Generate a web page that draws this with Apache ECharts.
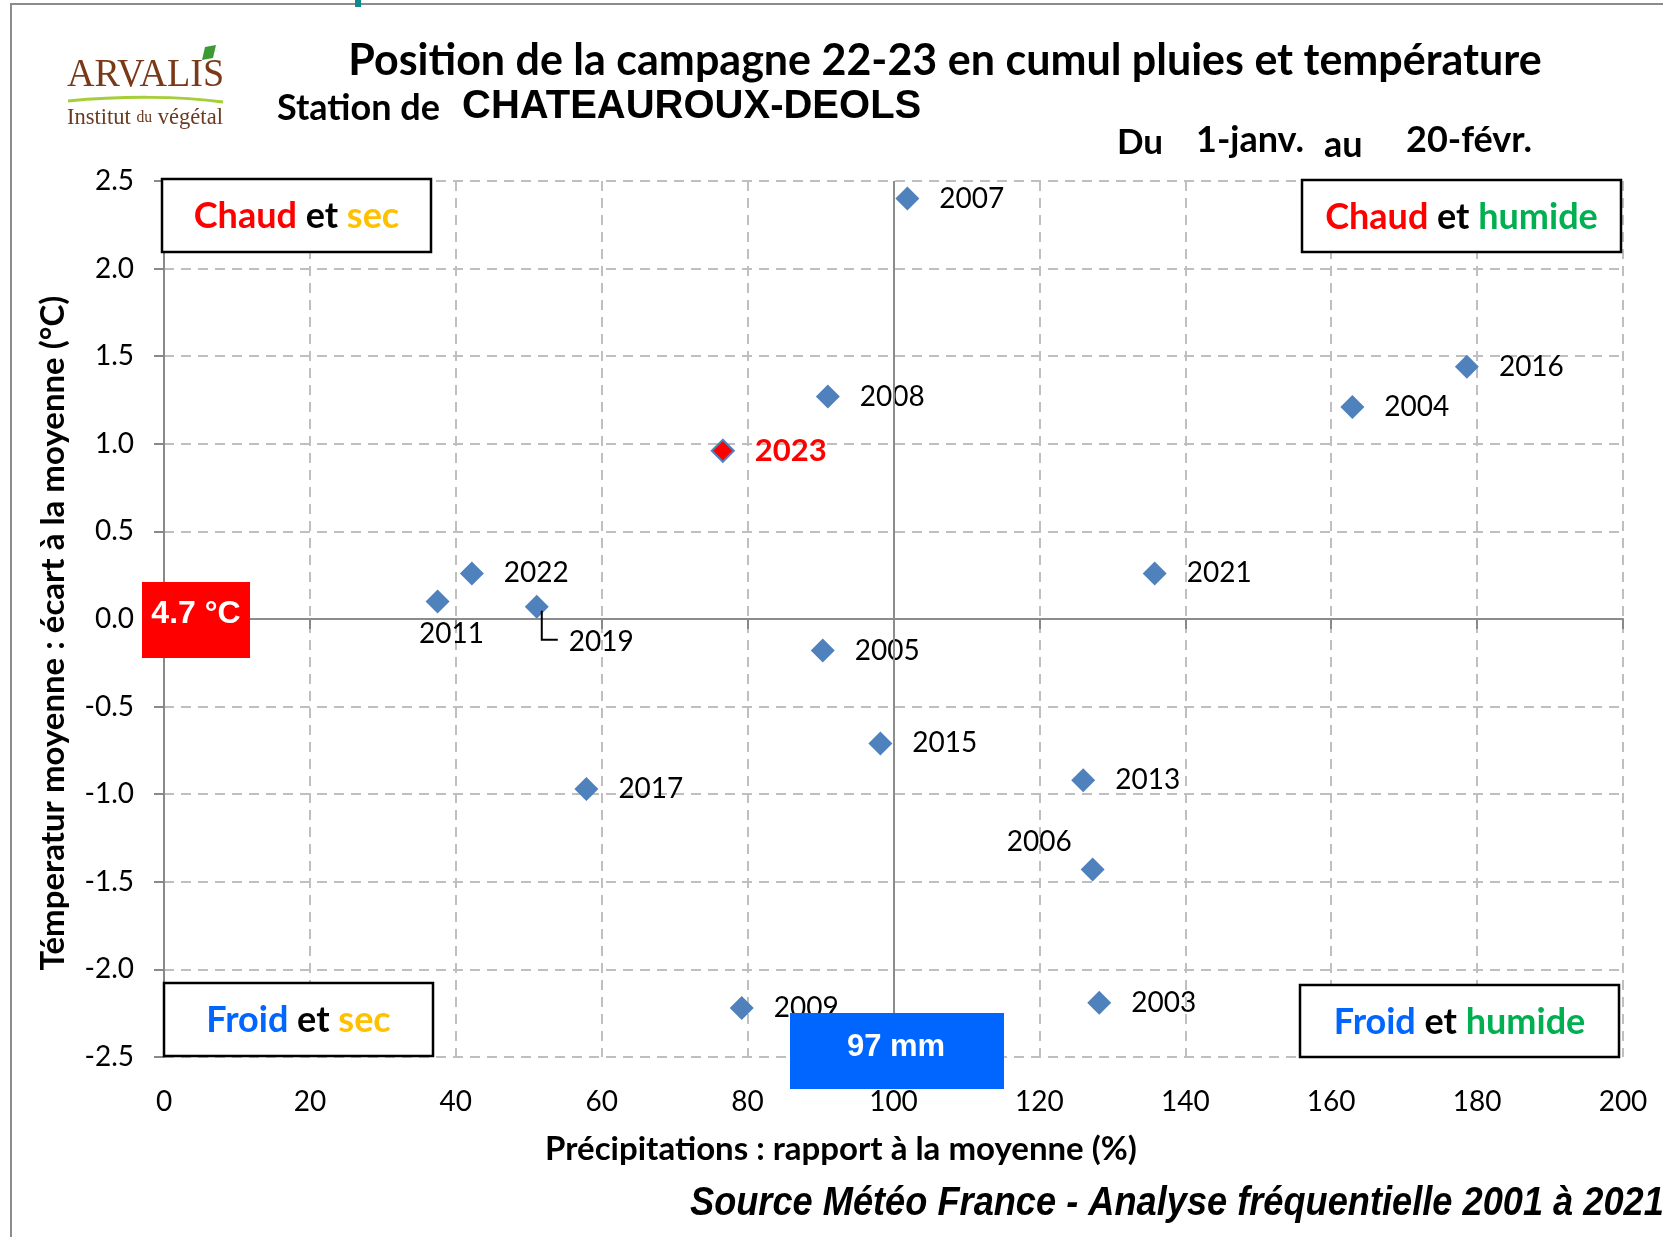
<!DOCTYPE html>
<html>
<head>
<meta charset="utf-8">
<script src="https://cdn.jsdelivr.net/npm/echarts@6/dist/echarts.min.js"></script>
<style>
  html, body { margin: 0; padding: 0; background: #fff; }
  #main { width: 1663px; height: 1237px; }
</style>
</head>
<body>
<div id="main"></div>
<script>
// données
const annees = ['2007', '2008', '2023', '2016', '2004', '2022', '2011', '2019', '2021', '2005', '2015', '2017', '2013', '2006', '2009', '2003'];
const pluies = [101.9, 91.0, 76.6, 178.6, 162.9, 42.2, 37.5, 51.1, 135.8, 90.3, 98.2, 57.9, 126.0, 127.3, 79.2, 128.2];
const temperatures = [2.40, 1.27, 0.96, 1.44, 1.21, 0.26, 0.10, 0.07, 0.26, -0.18, -0.71, -0.97, -0.92, -1.43, -2.22, -2.19];
const moyennes = { pluie: 100, temp: 0 };
const moyTempTexte = '4.7 °C';
const moyPluieTexte = '97 mm';
const anneeCourante = '2023';

const main = document.getElementById('main');
let myChart = echarts.init(main);

const FONT = 'Lato, "Open Sans", sans-serif';
const ARIAL = '"Liberation Sans", Arial, sans-serif';
const BLEU = '#4F81BD';

// placement particulier de certaines étiquettes
const positions = { '2011': 'bottom', '2006': 'left' };
const decalages = { '2011': { dx: 14 }, '2006': { dy: -28 }, '2019': { dy: 35 } };

let points = annees.map((a, i) => {
  let item = { name: a, value: [pluies[i], temperatures[i]] };
  if (positions[a]) item.label = { position: positions[a], distance: positions[a] === 'left' ? 9 : 6 };
  if (a === anneeCourante) {
    item.itemStyle = { color: '#FF0000', borderColor: BLEU, borderWidth: 2 };
    item.symbolSize = 22;
    item.label = { fontWeight: 'bold', color: '#FF0000', fontSize: 31 };
  }
  return item;
});

function boite(x, y, w, h, rich, texte) {
  return {
    type: 'group',
    children: [
      { type: 'rect', z: 100, shape: { x: x, y: y, width: w, height: h }, style: { fill: '#fff', stroke: '#000', lineWidth: 2.5 } },
      { type: 'text', z: 101, x: x + w / 2, y: y + h / 2 + 1, style: { text: texte, rich: rich, align: 'center', verticalAlign: 'middle' } },
    ],
  };
}
const richQuad = {
  r: { fill: '#FF0000', font: 'bold 36px ' + FONT },
  k: { fill: '#000', font: 'bold 36px ' + FONT },
  y: { fill: '#FFC000', font: 'bold 36px ' + FONT },
  g: { fill: '#00B050', font: 'bold 36px ' + FONT },
  b: { fill: '#0066FF', font: 'bold 36px ' + FONT },
};

let graphics = [
  // cadre
  { type: 'rect', z: 100, shape: { x: 11, y: 4, width: 1720, height: 1300 }, style: { fill: 'none', stroke: '#8c8c8c', lineWidth: 2 } },
  { type: 'rect', z: 100, shape: { x: 355, y: 0, width: 6, height: 7 }, style: { fill: '#138a8a' } },
  // logo
  { type: 'text', z: 100, x: 67, y: 96, scaleX: 0.93,
    style: { text: 'ARVALIS', font: '41px "Liberation Serif", serif', fill: '#7A3A1A', verticalAlign: 'bottom' } },
  { type: 'polygon', z: 100, shape: { points: [[205, 47], [216, 45], [213, 58], [202, 60]] }, style: { fill: '#3D9B35' } },
  { type: 'bezierCurve', z: 100, shape: { x1: 68, y1: 101, x2: 223, y2: 102, cpx1: 120, cpy1: 96, cpx2: 180, cpy2: 96 }, style: { stroke: '#A6CE39', lineWidth: 3, fill: 'none' } },
  { type: 'text', z: 100, x: 67, y: 118, scaleX: 0.98,
    style: {
      text: '{a|Institut }{b|du}{a| végétal}',
      rich: { a: { font: '23px "Liberation Serif", serif', fill: '#6B3A20' }, b: { font: '16px "Liberation Serif", serif', fill: '#6B3A20' } },
      verticalAlign: 'middle',
    } },
  // titres
  { type: 'text', z: 100, x: 945, y: 61,
    style: { text: 'Position de la campagne 22-23 en cumul pluies et température', font: 'bold 43px ' + FONT, fill: '#000', align: 'center', verticalAlign: 'middle' } },
  { type: 'text', z: 100, x: 277, y: 108,
    style: { text: 'Station de', font: 'bold 36px ' + FONT, fill: '#000', verticalAlign: 'middle' } },
  { type: 'text', z: 100, x: 462, y: 107,
    style: { text: 'CHATEAUROUX-DEOLS', font: 'bold 40px ' + ARIAL, fill: '#000', verticalAlign: 'middle' } },
  { type: 'text', z: 100, x: 1117, y: 143, style: { text: 'Du', font: 'bold 35px ' + FONT, fill: '#000', verticalAlign: 'middle' } },
  { type: 'text', z: 100, x: 1196, y: 140, style: { text: '1-janv.', font: 'bold 36px ' + FONT, fill: '#000', verticalAlign: 'middle' } },
  { type: 'text', z: 100, x: 1324, y: 145, style: { text: 'au', font: 'bold 36px ' + FONT, fill: '#000', verticalAlign: 'middle' } },
  { type: 'text', z: 100, x: 1406, y: 140, style: { text: '20-févr.', font: 'bold 36px ' + FONT, fill: '#000', verticalAlign: 'middle' } },
  // quadrants
  boite(162, 179, 269, 73, richQuad, '{r|Chaud }{k|et }{y|sec}'),
  boite(1302, 180, 319, 72, richQuad, '{r|Chaud }{k|et }{g|humide}'),
  boite(164, 983, 269, 73, richQuad, '{b|Froid }{k|et }{y|sec}'),
  boite(1300, 985, 319, 72, richQuad, '{b|Froid }{k|et }{g|humide}'),
  // moyennes
  { type: 'rect', z: 102, shape: { x: 142, y: 582, width: 108, height: 76 }, style: { fill: '#FF0000' } },
  { type: 'text', z: 103, x: 196, y: 614, style: { text: moyTempTexte, font: 'bold 32px ' + ARIAL, fill: '#fff', align: 'center', verticalAlign: 'middle' } },
  { type: 'rect', z: 102, shape: { x: 790, y: 1013, width: 214, height: 76 }, style: { fill: '#0066FF' } },
  { type: 'text', z: 103, x: 896, y: 1047, style: { text: moyPluieTexte, font: 'bold 31px ' + ARIAL, fill: '#fff', align: 'center', verticalAlign: 'middle' } },
  // source
  { type: 'text', z: 100, x: 690, y: 1204, scaleX: 0.905,
    style: { text: 'Source Météo France - Analyse fréquentielle 2001 à 2021', font: 'italic bold 40px ' + ARIAL, fill: '#000', verticalAlign: 'middle' } },
];

myChart.setOption({
  animation: false,
  backgroundColor: '#fff',
  grid: { left: 164, top: 181, width: 1459, height: 876 },
  xAxis: {
    type: 'value', min: 0, max: 200, interval: 20,
    name: 'Précipitations : rapport à la moyenne (%)',
    nameLocation: 'middle', nameGap: 76,
    nameTextStyle: { fontFamily: FONT, fontWeight: 'bold', fontSize: 33, color: '#000', padding: [0, 105, 0, 0] },
    axisLine: { lineStyle: { color: '#898989', width: 2 } },
    axisTick: { show: true, length: 10, lineStyle: { color: '#898989', width: 2 } },
    axisLabel: { fontFamily: FONT, fontSize: 28, color: '#000', margin: 31 },
    splitLine: { show: true, lineStyle: { color: '#BFBFBF', width: 2, type: [10, 7] } },
  },
  yAxis: {
    type: 'value', min: -2.5, max: 2.5, interval: 0.5,
    name: 'Témperatur moyenne : écart à la moyenne (°C)',
    nameLocation: 'middle', nameGap: 94, nameRotate: 90,
    nameTextStyle: { fontFamily: FONT, fontWeight: 'bold', fontSize: 33, color: '#000', padding: [0, 28, 0, 0] },
    axisLine: { show: true, lineStyle: { color: '#898989', width: 2 } },
    axisTick: { show: true, length: 10, lineStyle: { color: '#898989', width: 2 } },
    axisLabel: { fontFamily: FONT, fontSize: 28, color: '#000', margin: 30, formatter: (v) => v.toFixed(1) },
    splitLine: { show: true, lineStyle: { color: '#BFBFBF', width: 2, type: [10, 7] } },
  },
  series: [
    {
      // lignes des moyennes
      type: 'scatter', data: [], z: 1, silent: true,
      markLine: {
        silent: true, symbol: ['none', 'none'], label: { show: false },
        lineStyle: { color: '#8c8c8c', type: 'solid', width: 2 },
        data: [{ xAxis: moyennes.pluie }, { yAxis: moyennes.temp }],
      },
    },
    {
      type: 'scatter',
      symbol: 'diamond',
      symbolSize: 24,
      itemStyle: { color: BLEU, opacity: 1 },
      label: {
        show: true, position: 'right', distance: 20,
        formatter: (p) => p.name,
        fontFamily: FONT, fontSize: 28, color: '#000',
      },
      labelLayout: (p) => decalages[annees[p.dataIndex]] || {},
      data: points,
    },
  ],
  graphic: graphics,
});

// trait de rappel de l'étiquette 2019, à partir du point
let i19 = annees.indexOf('2019');
let p = myChart.convertToPixel({ gridIndex: 0 }, [pluies[i19], temperatures[i19]]);
graphics.push({
  type: 'polyline', z: 90,
  shape: { points: [[p[0] + 5, p[1] + 4], [p[0] + 5, p[1] + 33], [p[0] + 21, p[1] + 33]] },
  style: { stroke: '#000', lineWidth: 2, fill: 'none' },
});
myChart.setOption({ graphic: graphics });
</script>
</body>
</html>
